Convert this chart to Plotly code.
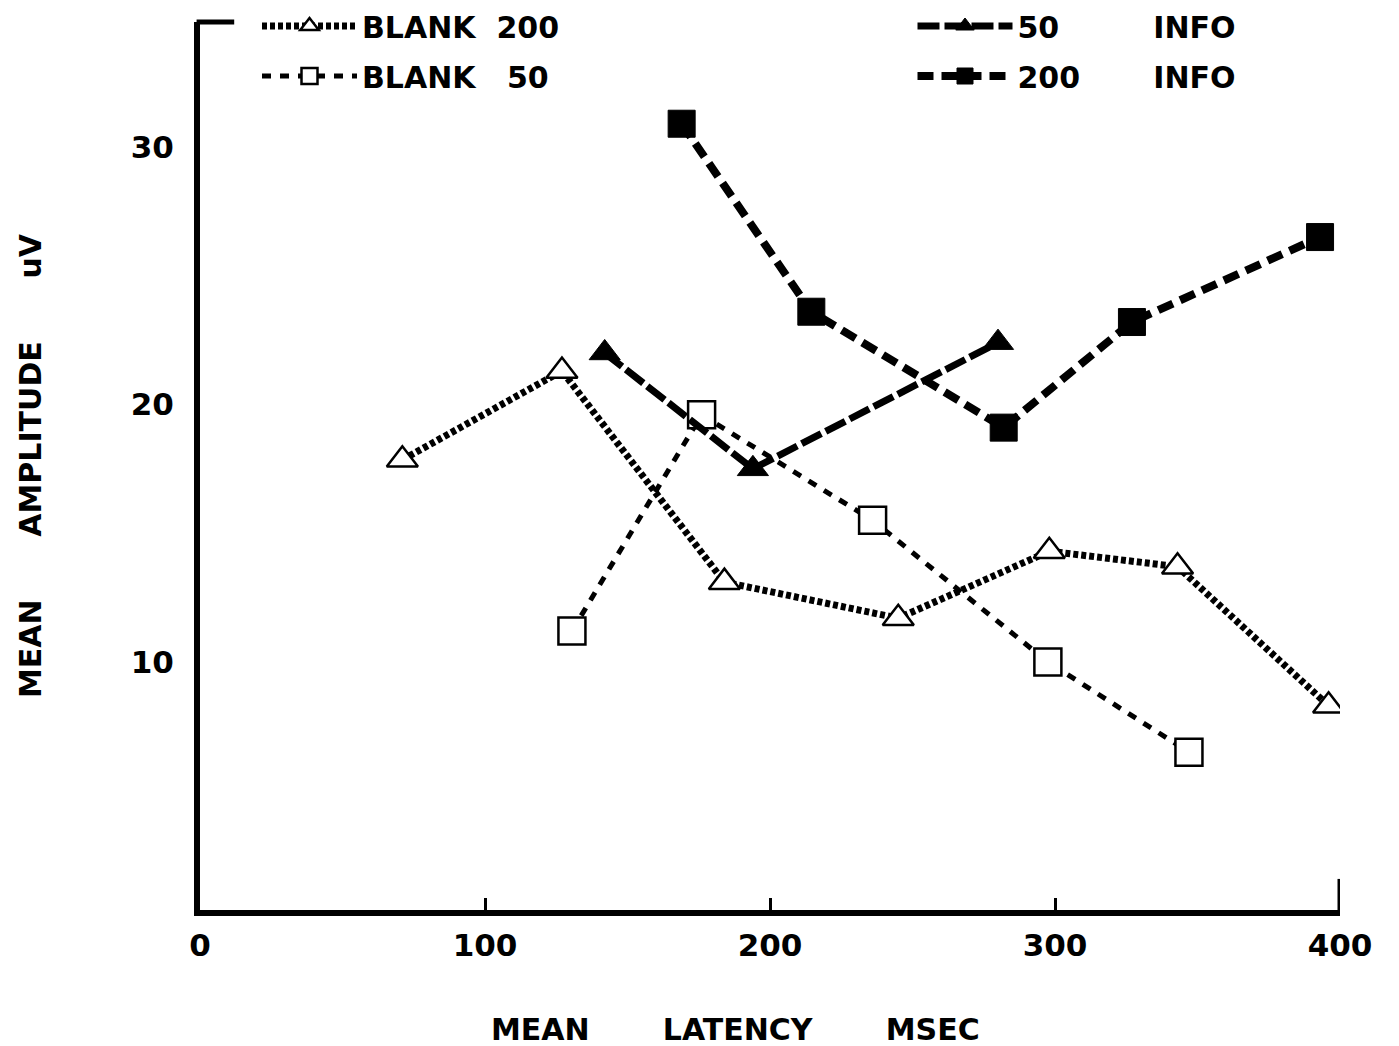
import plotly.graph_objects as go

# ---- data ----
blank200_x = [71, 127, 184, 245, 298, 343, 396]
blank200_y = [17.85, 21.3, 13.1, 11.7, 14.3, 13.7, 8.3]

blank50_x = [130.5, 176, 236, 297.5, 347]
blank50_y = [11.2, 19.6, 15.5, 10.0, 6.5]

info50_x = [142, 194, 280]
info50_y = [22.0, 17.5, 22.4]

info200_x = [169, 214.5, 282, 327, 393]
info200_y = [30.9, 23.6, 19.1, 23.2, 26.5]

x_ticks = [0, 100, 200, 300, 400]
y_ticks = [10, 20, 30]

FONT = "DejaVu Sans"
NB = "\u00a0"

fig = go.Figure()

fig.add_trace(go.Scatter(
    x=blank200_x, y=blank200_y, mode="lines+markers",
    name="BLANK" + NB * 2 + "200", legend="legend", legendgroup="a",
    line=dict(color="black", width=7, dash="5px,3px"),
    marker=dict(symbol="triangle-up", size=27, color="white",
                line=dict(color="black", width=2.5)),
))
fig.add_trace(go.Scatter(
    x=blank50_x, y=blank50_y, mode="lines+markers",
    name="BLANK" + NB * 3 + "50", legend="legend", legendgroup="b",
    line=dict(color="black", width=5, dash="9px,9px"),
    marker=dict(symbol="square", size=27, color="white",
                line=dict(color="black", width=2.5)),
))
fig.add_trace(go.Scatter(
    x=info50_x, y=info50_y, mode="lines+markers",
    name="50" + NB * 9 + "INFO", legend="legend2", legendgroup="c",
    line=dict(color="black", width=7, dash="22px,5px"),
    marker=dict(symbol="triangle-up", size=27, color="black",
                line=dict(color="black", width=1)),
))
fig.add_trace(go.Scatter(
    x=info200_x, y=info200_y, mode="lines+markers",
    name="200" + NB * 7 + "INFO", legend="legend2", legendgroup="d",
    line=dict(color="black", width=8, dash="16px,8px"),
    marker=dict(symbol="square", size=27, color="black",
                line=dict(color="black", width=1)),
))

# axis decorations: tall end tick at x=400 and small top stub on y axis
fig.add_shape(type="line", xref="x", yref="paper", x0=400, x1=400, y0=0, y1=0.035,
              line=dict(color="black", width=5))
fig.add_shape(type="line", xref="paper", yref="paper", x0=-0.003, x1=0.03, y0=1.0, y1=1.0,
              line=dict(color="black", width=5))

legend_common = dict(
    font=dict(family=FONT, size=30, color="black", weight="bold"),
    bgcolor="rgba(0,0,0,0)", tracegroupgap=8, itemwidth=95,
    yanchor="top", xanchor="left", traceorder="grouped", yref="container",
)

fig.update_layout(
    width=1399, height=1046,
    margin=dict(l=200, r=59, t=22, b=136, autoexpand=False),
    paper_bgcolor="white", plot_bgcolor="white",
    showlegend=True,
    legend=dict(x=0.05, y=1.0, **legend_common),
    legend2=dict(x=0.625, y=1.0, **legend_common),
    font=dict(family=FONT, color="black"),
)

fig.add_annotation(
    xref="paper", yref="paper", x=0.47, y=-0.135, xanchor="center", yanchor="middle",
    text="MEAN" + NB * 7 + "LATENCY" + NB * 7 + "MSEC", showarrow=False,
    font=dict(family=FONT, size=30, color="black", weight="bold"),
)

fig.update_xaxes(
    range=[0, 400], tickvals=x_ticks, ticktext=[str(v) for v in x_ticks],
    showgrid=False, zeroline=False, automargin=False,
    showline=True, linecolor="black", linewidth=6,
    ticks="inside", ticklen=12, tickwidth=3, tickcolor="black",
    ticklabelstandoff=3,
    tickfont=dict(family=FONT, size=31, color="black", weight="bold"),
)
fig.update_yaxes(
    range=[0.37, 34.85], tickvals=y_ticks, ticktext=[str(v) for v in y_ticks],
    showgrid=False, zeroline=False, automargin=False,
    showline=True, linecolor="black", linewidth=6,
    ticks="", ticklabelstandoff=14,
    tickfont=dict(family=FONT, size=31, color="black", weight="bold"),
    title=dict(text="MEAN" + NB * 6 + "AMPLITUDE" + NB * 6 + "uV",
               font=dict(family=FONT, size=30, color="black", weight="bold"),
               standoff=82),
)

fig.write_html("out.html")
